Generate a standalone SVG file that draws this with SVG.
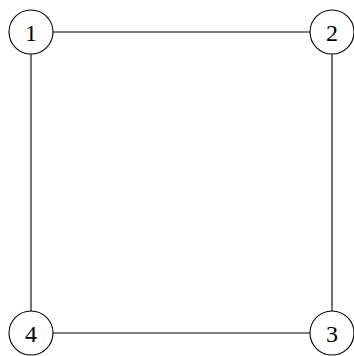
<svg xmlns="http://www.w3.org/2000/svg" width="354" height="356" viewBox="0 0 354 356">
<style>
.n circle{fill:#fff;stroke:#000;stroke-width:1.1}
.n text{font-family:"Liberation Serif","DejaVu Serif",serif;font-size:24px;text-anchor:middle;dominant-baseline:central;fill:#000}
.e line{stroke:#000;stroke-width:1.1}
</style>
<rect width="354" height="356" fill="#fff"/>
<g class="e" id="edges">
<line x1="31" y1="32" x2="332" y2="32"/>
<line x1="332" y1="32" x2="332" y2="333"/>
<line x1="332" y1="333" x2="31" y2="333"/>
<line x1="31" y1="333" x2="31" y2="32"/>
</g>
<g class="n" id="n1"><circle cx="31" cy="32" r="22"/><text x="31" y="33">1</text></g>
<g class="n" id="n2"><circle cx="332" cy="32" r="22"/><text x="332" y="33">2</text></g>
<g class="n" id="n3"><circle cx="332" cy="333" r="22"/><text x="332" y="334">3</text></g>
<g class="n" id="n4"><circle cx="31" cy="333" r="22"/><text x="31" y="334">4</text></g>
</svg>
